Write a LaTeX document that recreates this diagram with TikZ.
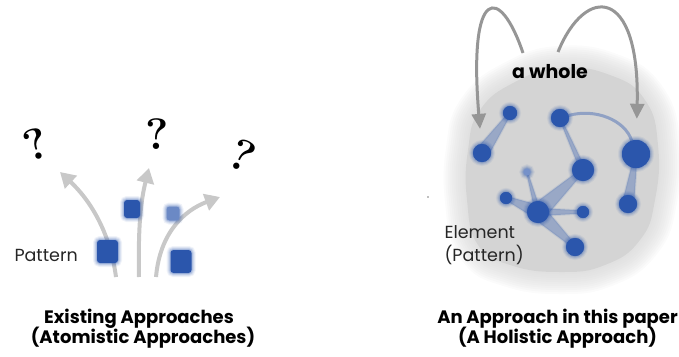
\documentclass[tikz,border=0pt]{standalone}
\usepackage{fontspec}
\newfontfamily\sansf{Poppins}
\usetikzlibrary{arrows.meta,calc}
\definecolor{blu}{RGB}{43,86,172}
\definecolor{lgray}{RGB}{200,200,200}
\definecolor{dgray}{RGB}{150,150,150}
\definecolor{blobgray}{RGB}{212,212,212}
\newcommand\taper[4]{\fill[linkfill] ($(#1)!#3pt!90:(#2)$) -- ($(#2)!#4pt!-90:(#1)$) -- ($(#2)!#4pt!90:(#1)$) -- ($(#1)!#3pt!-90:(#2)$) -- cycle;}
\newcommand\blobpath{plot[smooth cycle, tension=.8] coordinates {(480,110) (515,82) (560,68) (610,75) (645,100) (658,145) (655,200) (640,240) (605,265) (560,272) (510,265) (478,245) (467,200) (468,150)}}
\begin{document}
\begin{tikzpicture}[x=1pt,y=-1pt,
  fuzz/.style={preaction={draw=#1, draw opacity=.07, line width=8pt}, preaction={draw=#1, draw opacity=.1, line width=6pt}, preaction={draw=#1, draw opacity=.14, line width=4pt}, preaction={draw=#1, draw opacity=.2, line width=2pt}},
  bdot/.style={circle, inner sep=0pt, fill=blu, minimum size=#1, fuzz=blu},
  sq/.style={rectangle, rounded corners=3pt, inner sep=0pt, fill=blu, fuzz=blu},
  linkfill/.style={fill=blu, fill opacity=.35, preaction={draw=blu, draw opacity=.1, line width=2pt}},
  larrow/.style={draw=lgray, line width=4pt, -{Triangle[length=15pt,width=17pt]}},
  rarrow/.style={draw=dgray, line width=3pt, -{Triangle[length=15pt,width=14pt]}},
  qm/.style={font=\bfseries\fontsize{44}{44}\selectfont},
  lab/.style={font=\sansf\fontsize{17.5}{20}\selectfont, text=black!85},
  title/.style={font=\sansf\bfseries\fontsize{18}{21}\selectfont, anchor=base},
]
\useasboundingbox (0,0) rectangle (679,356);
% ---------- left panel ----------
\coordinate (s1) at (116,277);
\coordinate (t1) at (60,172);
\coordinate (s2) at (139,277);
\coordinate (t2) at (149,168);
\coordinate (s3) at (156,277);
\coordinate (t3) at (220,197);
\draw[larrow] (s1) .. controls (110,232) and (90,200) .. (t1);
\draw[larrow] (s2) .. controls (138,225) and (141,200) .. (t2);
\draw[larrow] (s3) .. controls (160,232) and (185,210) .. (t3);

\node[sq, minimum width=21pt, minimum height=23pt] (p1) at (107.5,251.5) {};
\node[sq, minimum width=16pt, minimum height=18pt] (p2) at (132,209) {};
\node[sq, minimum width=13pt, minimum height=14pt, fill=blu!70] (p3) at (173,213.5) {};
\node[sq, minimum width=21pt, minimum height=23pt] (p4) at (181,261.5) {};

\node[qm, rotate=18] (q1) at (36,144) {?};
\node[qm] (q2) at (157.5,134) {?};
\node[qm, rotate=-25] (q3) at (243,155) {?};

\node[lab, anchor=west] (pat) at (11,255) {Pattern};

\node[title] (t1a) at (139,323) {Existing Approaches};
\node[title] (t1b) at (143,343) {(Atomistic Approaches)};

% ---------- right panel ----------
\foreach \w in {44,40,...,4}
  \draw[blobgray, draw opacity=.1, line width=\w pt] \blobpath;
\fill[blobgray] \blobpath;

\fill[black!50] (428,197) circle (0.8);

\node[bdot=14pt] (A) at (510,113) {};
\node[bdot=18pt] (B) at (482,153) {};
\node[bdot=18pt] (C) at (560,118) {};
\node[bdot=28pt] (D) at (636,154) {};
\node[bdot=22pt] (E) at (583,170) {};
\node[bdot=7pt, fill=blu!65] (F) at (527,172) {};
\node[bdot=12pt] (G) at (506,198) {};
\node[bdot=22pt] (H) at (538,212) {};
\node[bdot=12pt] (I) at (583,212) {};
\node[bdot=18pt] (J) at (628,204) {};
\node[bdot=18pt] (K) at (575,247) {};

\taper{B}{A}{7}{1.5}
\taper{J}{D}{6}{1.5}
\taper{H}{E}{9}{2}
\taper{H}{F}{3}{0.8}
\taper{H}{G}{7}{2}
\taper{H}{I}{4}{1.5}
\taper{H}{K}{8}{2}
\taper{E}{C}{3}{1}
\draw[blu, draw opacity=.4, line width=3pt] (C) .. controls (595,108) and (625,120) .. (D);

% redraw node cores over links
\foreach \n/\s/\c in {A/14/blu,B/18/blu,C/18/blu,D/28/blu,E/22/blu,F/7/blu!65,G/12/blu,H/22/blu,I/12/blu,J/18/blu,K/18/blu}
  \fill[\c] (\n) circle (\s/2);

\coordinate (ra) at (523,53);
\coordinate (rb) at (558,52);
\draw[rarrow, shorten >=15pt] (ra) .. controls (500,-15) and (468,-15) .. (B);
\draw[rarrow, shorten >=21pt] (rb) .. controls (585,-15) and (640,-15) .. (D);

\node[font=\sansf\bfseries\fontsize{19}{22}\selectfont] (whole) at (550,72) {a whole};

\node[lab, anchor=west] (el1) at (441,232) {Element};
\node[lab, anchor=west] (el2) at (441,255) {(Pattern)};

\node[title] (t2a) at (557.5,323) {An Approach in this paper};
\node[title] (t2b) at (557.5,343) {(A Holistic Approach)};
\end{tikzpicture}
\end{document}
